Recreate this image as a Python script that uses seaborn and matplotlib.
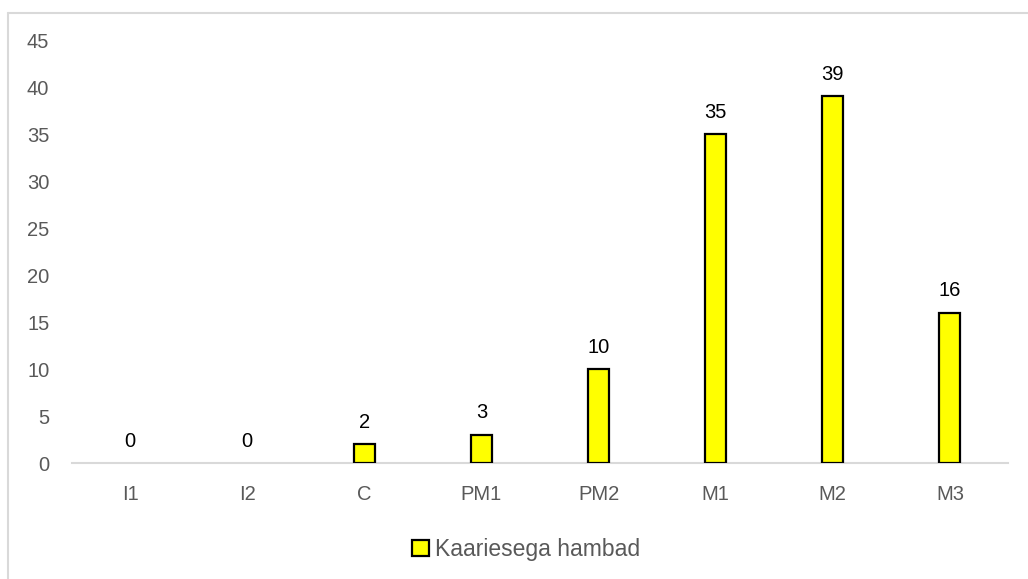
import matplotlib
matplotlib.use("Agg")
import matplotlib.pyplot as plt
from matplotlib.lines import Line2D
import seaborn as sns
import pandas as pd

categories = ["I1", "I2", "C", "PM1", "PM2", "M1", "M2", "M3"]
values = [0, 0, 2, 3, 10, 35, 39, 16]
series_name = "Kaariesega hambad"
y_ticks = [0, 5, 10, 15, 20, 25, 30, 35, 40, 45]

sns.set_theme(style="white")
plt.rcParams["font.family"] = ["Liberation Sans", "DejaVu Sans"]

df = pd.DataFrame({"tooth": categories, "count": values, "series": series_name})

fig = plt.figure(figsize=(10.28, 5.79), dpi=100)
ax = fig.add_axes([0.0696, 0.2003, 0.9114, 0.7306])

sns.barplot(data=df, x="tooth", y="count", hue="series", order=categories,
            palette=["#FFFF00"], saturation=1, width=0.18, edgecolor="black",
            linewidth=1.6, ax=ax, legend=True)

ax.set_ylim(0, 45)
ax.set_yticks(y_ticks)
ax.set_xlim(-0.5, len(categories) - 0.5)
ax.set_xlabel("")
ax.set_ylabel("")

for side in ["left", "right", "top"]:
    ax.spines[side].set_visible(False)
ax.spines["bottom"].set_color("#D9D9D9")
ax.spines["bottom"].set_linewidth(1.5)
ax.spines["bottom"].set_zorder(0.5)

ax.tick_params(axis="both", length=0, labelsize=14.5, colors="#595959")
ax.tick_params(axis="y", pad=16)
ax.tick_params(axis="x", pad=16)

for cont in ax.containers:
    ax.bar_label(cont, labels=[str(v) for v in values], padding=9,
                 fontsize=14.5, color="black")

leg = ax.legend(loc="lower center", bbox_to_anchor=(0.4856, -0.28), frameon=False,
                fontsize=16.5, handlelength=0.7, handleheight=0.7,
                handletextpad=0.3, labelcolor="#595959")
for handle in leg.legend_handles:
    handle.set_edgecolor("black")
    handle.set_linewidth(1.6)

# empty bars get no outline
for patch in ax.patches:
    if patch.get_height() == 0:
        patch.set_linewidth(0)

# chart-area border (left and top edges)
fig.add_artist(Line2D([7.5 / 1028, 7.5 / 1028], [0, 1 - 12.5 / 579],
                      transform=fig.transFigure, color="#D9D9D9", linewidth=1.5))
fig.add_artist(Line2D([7.5 / 1028, 1], [1 - 12.5 / 579, 1 - 12.5 / 579],
                      transform=fig.transFigure, color="#D9D9D9", linewidth=1.5))

fig.savefig("out.png", dpi=100)
